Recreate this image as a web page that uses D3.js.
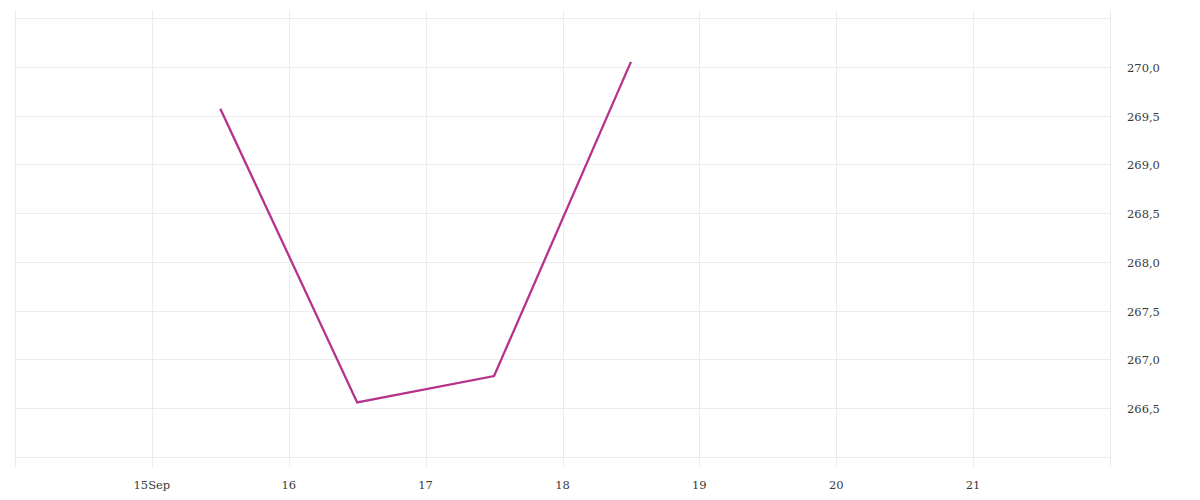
<!DOCTYPE html>
<html>
<head>
<meta charset="utf-8">
<script src="https://cdn.jsdelivr.net/npm/d3@7"></script>
<style>
  body { margin: 0; background: #fff; }
  text { font-family: "DejaVu Serif", serif; font-size: 11.5px; fill: #3a3a3a; }
</style>
</head>
<body>
<svg id="chart" width="1200" height="500"></svg>
<script>
const dates = ["2023-09-15T12:00", "2023-09-16T12:00", "2023-09-17T12:00", "2023-09-18T12:00"]
const values = [269.57, 266.56, 266.83, 270.05]
const yTicks = [266.5, 267, 267.5, 268, 268.5, 269, 269.5, 270]
const yGrid = [266, 266.5, 267, 267.5, 268, 268.5, 269, 269.5, 270, 270.5]

const parse = d3.timeParse("%Y-%m-%dT%H:%M")
const pts = dates.map((d, i) => [parse(d), values[i]])

const padLeft = 15, padRight = 1110, padTop = 18, padBottom = 457

const x = d3.scaleTime()
    .domain([new Date(2023, 8, 14), new Date(2023, 8, 22)])
    .range([padLeft, padRight])
const y = d3.scaleLinear()
    .domain([266, 270.5])
    .range([padBottom, padTop])

const svg = d3.select('#chart')
const fmt = d3.formatLocale({decimal: ",", thousands: ".", grouping: [3], currency: ["", ""]}).format(".1f")

// gridlines
svg.append('g').selectAll('line')
    .data(yGrid)
    .enter().append('line')
    .attr('x1', padLeft).attr('x2', padRight)
    .attr('y1', d => Math.round(y(d)) + 0.5).attr('y2', d => Math.round(y(d)) + 0.5)
    .style('stroke', '#ececec')

const dayTicks = d3.timeDay.range(new Date(2023, 8, 14), new Date(2023, 8, 23))
svg.append('g').selectAll('line')
    .data(dayTicks)
    .enter().append('line')
    .attr('x1', d => Math.round(x(d)) + 0.5).attr('x2', d => Math.round(x(d)) + 0.5)
    .attr('y1', 10).attr('y2', padBottom + 10)
    .style('stroke', '#ececec')

// x labels
const labelDays = dayTicks.slice(1, -1)
svg.append('g').selectAll('text')
    .data(labelDays)
    .enter().append('text')
    .attr('x', d => x(d))
    .attr('y', 489)
    .attr('text-anchor', 'middle')
    .text(d => d.getDate() === 15 ? "15Sep" : d3.timeFormat("%-d")(d))

// y labels
svg.append('g').selectAll('text')
    .data(yTicks)
    .enter().append('text')
    .attr('x', 1127)
    .attr('y', d => y(d) + 5)
    .text(d => fmt(d))

// line
svg.append('path')
    .datum(pts)
    .attr('d', d3.line().x(d => x(d[0])).y(d => y(d[1])))
    .style('fill', 'none')
    .style('stroke', '#b5338a')
    .style('stroke-width', 2.3)
</script>
</body>
</html>
